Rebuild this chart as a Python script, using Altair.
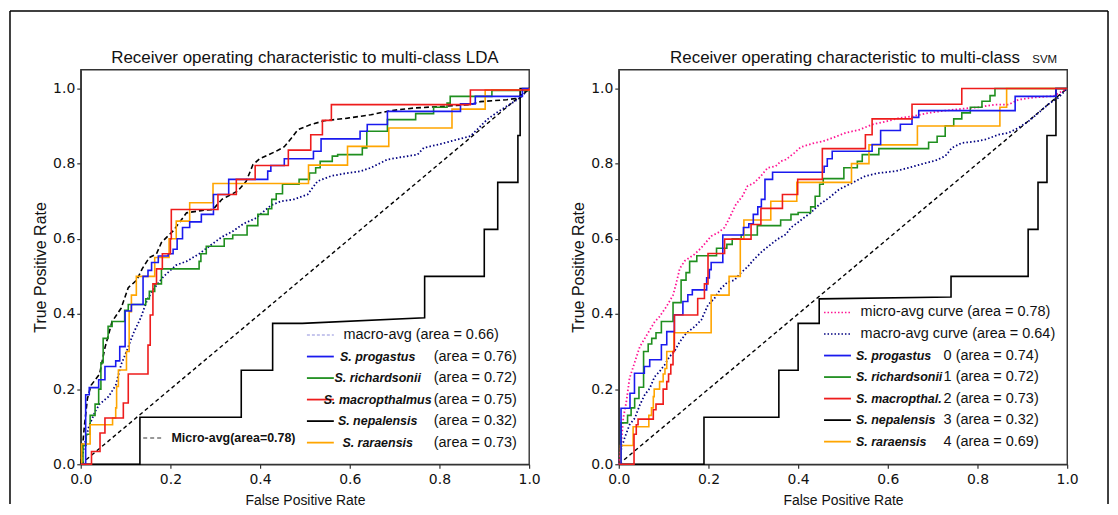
import altair as alt
import pandas as pd

# ---------------- data ----------------
diag_fpr = [0.0, 1.0]
diag_tpr = [0.0, 1.0]

# LDA panel
lda_prog_fpr = [0, 0.011, 0.019, 0.04, 0.054, 0.078, 0.087, 0.099, 0.113, 0.139, 0.15, 0.158, 0.173, 0.195, 0.206, 0.215, 0.227, 0.243, 0.269, 0.296, 0.33, 0.417, 0.424, 0.454, 0.519, 0.536, 0.623, 0.639, 0.684, 0.847, 0.88, 0.985, 1.0]
lda_prog_tpr = [0, 0.185, 0.204, 0.225, 0.26, 0.275, 0.313, 0.408, 0.425, 0.5, 0.516, 0.537, 0.554, 0.56, 0.572, 0.6, 0.63, 0.645, 0.665, 0.718, 0.758, 0.78, 0.795, 0.813, 0.833, 0.866, 0.886, 0.904, 0.939, 0.959, 0.979, 1.0, 1.0]

lda_rich_fpr = [0, 0.005, 0.012, 0.021, 0.032, 0.04, 0.045, 0.05, 0.061, 0.07, 0.098, 0.106, 0.145, 0.153, 0.165, 0.18, 0.264, 0.268, 0.28, 0.32, 0.339, 0.371, 0.395, 0.418, 0.426, 0.436, 0.45, 0.487, 0.51, 0.524, 0.534, 0.561, 0.573, 0.628, 0.638, 0.684, 0.747, 0.787, 0.817, 0.824, 0.917, 1.0]
lda_rich_tpr = [0, 0.05, 0.08, 0.13, 0.16, 0.2, 0.27, 0.335, 0.367, 0.38, 0.41, 0.425, 0.44, 0.46, 0.48, 0.52, 0.54, 0.56, 0.58, 0.6, 0.61, 0.635, 0.665, 0.68, 0.705, 0.72, 0.745, 0.758, 0.775, 0.789, 0.806, 0.82, 0.824, 0.842, 0.886, 0.917, 0.933, 0.95, 0.961, 0.979, 0.995, 1.0]

lda_macr_fpr = [0, 0.024, 0.043, 0.054, 0.095, 0.106, 0.15, 0.155, 0.161, 0.169, 0.182, 0.2, 0.202, 0.306, 0.347, 0.389, 0.463, 0.513, 0.539, 0.559, 0.869, 1.0]
lda_macr_tpr = [0, 0.034, 0.083, 0.123, 0.163, 0.24, 0.317, 0.397, 0.48, 0.52, 0.56, 0.6, 0.678, 0.718, 0.758, 0.795, 0.836, 0.877, 0.915, 0.957, 0.996, 1.0]

lda_nepa_fpr = [0, 0.132, 0.132, 0.358, 0.358, 0.428, 0.428, 0.494, 0.767, 0.767, 0.9, 0.9, 0.93, 0.93, 0.975, 0.975, 0.98, 0.98, 1.0]
lda_nepa_tpr = [0, 0, 0.125, 0.125, 0.25, 0.25, 0.375, 0.375, 0.39, 0.5, 0.5, 0.625, 0.625, 0.75, 0.75, 0.875, 0.875, 1.0, 1.0]

lda_rara_fpr = [0, 0.002, 0.021, 0.071, 0.078, 0.08, 0.084, 0.102, 0.108, 0.113, 0.124, 0.165, 0.197, 0.213, 0.243, 0.295, 0.508, 0.595, 0.687, 0.828, 0.902, 1.0]
lda_rara_tpr = [0, 0.054, 0.105, 0.123, 0.15, 0.207, 0.251, 0.3, 0.406, 0.45, 0.5, 0.55, 0.6, 0.647, 0.696, 0.747, 0.796, 0.846, 0.895, 0.945, 0.996, 1.0]

lda_micro_fpr = [0, 0.005, 0.008, 0.015, 0.023, 0.042, 0.054, 0.07, 0.09, 0.106, 0.125, 0.137, 0.153, 0.169, 0.18, 0.206, 0.236, 0.268, 0.295, 0.315, 0.35, 0.369, 0.384, 0.399, 0.436, 0.454, 0.47, 0.484, 0.513, 0.543, 0.595, 0.647, 0.691, 0.743, 0.802, 0.869, 0.891, 0.95, 0.98, 1.0]
lda_micro_tpr = [0, 0.06, 0.1, 0.175, 0.21, 0.24, 0.31, 0.38, 0.415, 0.47, 0.49, 0.52, 0.55, 0.56, 0.59, 0.621, 0.669, 0.675, 0.678, 0.705, 0.727, 0.753, 0.797, 0.813, 0.833, 0.845, 0.868, 0.89, 0.904, 0.914, 0.921, 0.93, 0.941, 0.948, 0.952, 0.957, 0.965, 0.97, 0.975, 1.0]

lda_macro_fpr = [0, 0.008, 0.018, 0.032, 0.042, 0.062, 0.078, 0.09, 0.102, 0.118, 0.134, 0.149, 0.165, 0.185, 0.213, 0.236, 0.264, 0.292, 0.315, 0.339, 0.363, 0.391, 0.41, 0.426, 0.447, 0.476, 0.506, 0.528, 0.558, 0.595, 0.625, 0.647, 0.684, 0.713, 0.751, 0.765, 0.802, 0.839, 0.869, 0.891, 0.906, 0.927, 0.96, 0.98, 1.0]
lda_macro_tpr = [0, 0.05, 0.1, 0.14, 0.16, 0.18, 0.21, 0.265, 0.3, 0.35, 0.39, 0.44, 0.47, 0.5, 0.53, 0.54, 0.56, 0.585, 0.605, 0.62, 0.64, 0.655, 0.675, 0.69, 0.7, 0.705, 0.718, 0.753, 0.767, 0.775, 0.78, 0.789, 0.811, 0.817, 0.824, 0.842, 0.852, 0.864, 0.873, 0.899, 0.917, 0.935, 0.96, 0.975, 1.0]

# SVM panel
svm_prog_fpr = [0, 0.005, 0.025, 0.035, 0.057, 0.069, 0.095, 0.107, 0.124, 0.143, 0.154, 0.164, 0.196, 0.202, 0.206, 0.232, 0.278, 0.29, 0.3, 0.31, 0.318, 0.326, 0.343, 0.458, 0.465, 0.476, 0.565, 0.584, 0.628, 0.654, 0.669, 0.884, 0.975, 1.0]
svm_prog_tpr = [0, 0.149, 0.189, 0.242, 0.26, 0.278, 0.318, 0.353, 0.398, 0.433, 0.451, 0.464, 0.496, 0.518, 0.537, 0.61, 0.63, 0.64, 0.665, 0.685, 0.705, 0.758, 0.777, 0.793, 0.813, 0.833, 0.851, 0.888, 0.905, 0.923, 0.941, 0.979, 1.0, 1.0]

svm_rich_fpr = [0, 0.005, 0.0196, 0.0275, 0.0354, 0.045, 0.0553, 0.0656, 0.0735, 0.083, 0.095, 0.121, 0.139, 0.15, 0.158, 0.174, 0.218, 0.241, 0.253, 0.273, 0.309, 0.361, 0.384, 0.4, 0.428, 0.438, 0.448, 0.456, 0.502, 0.532, 0.543, 0.58, 0.691, 0.71, 0.728, 0.747, 0.765, 0.784, 0.81, 0.828, 0.839, 1.0]
svm_rich_tpr = [0, 0.11, 0.13, 0.15, 0.175, 0.205, 0.3, 0.32, 0.335, 0.35, 0.38, 0.43, 0.49, 0.51, 0.54, 0.555, 0.575, 0.585, 0.6, 0.61, 0.635, 0.65, 0.665, 0.67, 0.685, 0.713, 0.745, 0.76, 0.789, 0.806, 0.824, 0.84, 0.857, 0.873, 0.901, 0.919, 0.935, 0.95, 0.966, 0.981, 1.0, 1.0]

svm_macr_fpr = [0, 0.034, 0.039, 0.043, 0.077, 0.083, 0.099, 0.107, 0.111, 0.116, 0.121, 0.124, 0.176, 0.191, 0.199, 0.236, 0.295, 0.317, 0.365, 0.399, 0.454, 0.55, 0.565, 0.654, 0.765, 1.0]
svm_macr_tpr = [0, 0.08, 0.105, 0.12, 0.145, 0.16, 0.2, 0.22, 0.24, 0.265, 0.3, 0.397, 0.441, 0.48, 0.561, 0.599, 0.638, 0.681, 0.718, 0.758, 0.84, 0.877, 0.919, 0.958, 1.0, 1.0]

svm_nepa_fpr = [0, 0.19, 0.19, 0.357, 0.357, 0.4, 0.4, 0.447, 0.447, 0.741, 0.741, 0.913, 0.913, 0.935, 0.935, 0.955, 0.955, 0.975, 0.975, 1.0]
svm_nepa_tpr = [0, 0, 0.125, 0.125, 0.25, 0.25, 0.375, 0.375, 0.44, 0.445, 0.5, 0.5, 0.625, 0.625, 0.75, 0.75, 0.875, 0.875, 1.0, 1.0]

svm_rara_fpr = [0, 0.004, 0.032, 0.067, 0.073, 0.077, 0.079, 0.091, 0.099, 0.103, 0.107, 0.123, 0.206, 0.246, 0.271, 0.279, 0.339, 0.397, 0.519, 0.558, 0.666, 0.85, 0.865, 1.0]
svm_rara_tpr = [0, 0.05, 0.1, 0.13, 0.15, 0.18, 0.2, 0.22, 0.24, 0.255, 0.3, 0.35, 0.45, 0.5, 0.6, 0.65, 0.7, 0.75, 0.8, 0.85, 0.9, 0.95, 1.0, 1.0]

svm_micro_fpr = [0, 0.002, 0.006, 0.01, 0.017, 0.024, 0.036, 0.047, 0.058, 0.069, 0.08, 0.091, 0.106, 0.121, 0.128, 0.136, 0.147, 0.169, 0.184, 0.206, 0.221, 0.236, 0.247, 0.261, 0.276, 0.287, 0.302, 0.317, 0.332, 0.35, 0.361, 0.373, 0.391, 0.406, 0.436, 0.454, 0.476, 0.506, 0.536, 0.565, 0.595, 0.625, 0.654, 0.691, 0.728, 0.765, 0.802, 0.839, 0.869, 0.891, 0.927, 0.97, 1.0]
svm_micro_tpr = [0, 0.017, 0.061, 0.123, 0.167, 0.229, 0.273, 0.313, 0.335, 0.357, 0.379, 0.393, 0.419, 0.45, 0.481, 0.521, 0.541, 0.559, 0.576, 0.607, 0.616, 0.63, 0.656, 0.691, 0.714, 0.74, 0.749, 0.767, 0.789, 0.793, 0.806, 0.811, 0.828, 0.844, 0.855, 0.859, 0.868, 0.882, 0.89, 0.904, 0.912, 0.921, 0.926, 0.935, 0.941, 0.946, 0.95, 0.957, 0.957, 0.97, 0.976, 0.98, 1.0]

svm_macro_fpr = [0, 0.006, 0.013, 0.024, 0.036, 0.047, 0.058, 0.069, 0.08, 0.091, 0.102, 0.113, 0.124, 0.136, 0.15, 0.169, 0.184, 0.199, 0.213, 0.228, 0.243, 0.258, 0.271, 0.287, 0.302, 0.321, 0.339, 0.354, 0.373, 0.384, 0.399, 0.413, 0.428, 0.447, 0.469, 0.491, 0.521, 0.55, 0.58, 0.617, 0.647, 0.676, 0.706, 0.728, 0.743, 0.765, 0.795, 0.817, 0.847, 0.869, 0.891, 0.913, 0.927, 0.96, 0.98, 1.0]
svm_macro_tpr = [0, 0.043, 0.07, 0.105, 0.123, 0.158, 0.185, 0.202, 0.233, 0.247, 0.264, 0.286, 0.3, 0.326, 0.348, 0.366, 0.384, 0.424, 0.441, 0.468, 0.485, 0.49, 0.508, 0.525, 0.546, 0.568, 0.585, 0.599, 0.612, 0.63, 0.643, 0.656, 0.669, 0.691, 0.709, 0.731, 0.749, 0.767, 0.775, 0.78, 0.789, 0.799, 0.808, 0.82, 0.842, 0.855, 0.859, 0.864, 0.877, 0.882, 0.895, 0.912, 0.926, 0.96, 0.975, 1.0]

# legend texts
species_lda = ["S. progastus", "S. richardsonii", "S. macropthalmus", "S. nepalensis", "S. raraensis"]
areas_lda = ["(area = 0.76)", "(area = 0.72)", "(area = 0.75)", "(area = 0.32)", "(area = 0.73)"]
macro_lda_label = "macro-avg (area = 0.66)"
micro_lda_label = "Micro-avg(area=0.78)"
species_svm = ["S. progastus", "S. richardsonii", "S. macropthal.", "S. nepalensis", "S. raraensis"]
areas_svm = ["0 (area = 0.74)", "1 (area = 0.72)", "2 (area = 0.73)", "3 (area = 0.32)", "4 (area = 0.69)"]
avg_svm_labels = ["micro-avg curve (area = 0.78)", "macro-avg curve (area = 0.64)"]
species_colors = ["#1a1aee", "#1f8f1f", "#ee1c1c", "#000000", "#ffa500"]

title_lda = "Receiver operating characteristic to multi-class LDA"
title_svm = "Receiver operating characteristic to multi-class"
title_svm_tag = "SVM"

# ---------------- layout helpers ----------------
W, H = 450, 396
YMAX = 1.05
SANS = "'Liberation Sans', Arial, sans-serif"


def px2x(p):
    return p / W


def px2y(p):
    return YMAX * (1 - p / H)


xs = alt.Scale(domain=[0, 1], nice=False, zero=False)
ys = alt.Scale(domain=[0, YMAX], nice=False, zero=False)
ticks = [0, 0.2, 0.4, 0.6, 0.8, 1.0]
x_axis = alt.Axis(values=ticks, format=".1f", title="False Positive Rate", grid=False,
                  titleFont=SANS, titleFontSize=14, titleFontWeight="normal",
                  titleX=W / 2, titleY=36, titleBaseline="middle", titleColor="#111",
                  labelPadding=4, labelFlush=False)
y_axis = alt.Axis(values=ticks, format=".1f", title="True Positive Rate", grid=False,
                  titleFont=SANS, titleFontSize=16, titleFontWeight="normal",
                  titleX=-40, titleY=H / 2, titleBaseline="middle", titleColor="#111",
                  labelPadding=2, labelFlush=False)


def X(f="x"):
    return alt.X(f + ":Q", scale=xs, axis=x_axis)


def Y(f="y"):
    return alt.Y(f + ":Q", scale=ys, axis=y_axis)


def curve(fpr, tpr, color, interp="step-after", dash=None, width=1.6):
    df = pd.DataFrame({"x": fpr, "y": tpr, "i": list(range(len(fpr)))})
    kw = dict(color=color, strokeWidth=width, interpolate=interp, clip=False)
    if dash:
        kw["strokeDash"] = dash
    return alt.Chart(df).mark_line(**kw).encode(x=X(), y=Y(), order="i:Q")


def sample(x0, x1, yrow, color, dash=None, width=1.6):
    df = pd.DataFrame({"x": [px2x(x0)], "x2": [px2x(x1)], "y": [px2y(yrow)]})
    kw = dict(color=color, strokeWidth=width)
    if dash:
        kw["strokeDash"] = dash
    return alt.Chart(df).mark_rule(**kw).encode(x=X(), x2="x2:Q", y=Y())


def texts(labels, xpix, ypix, align="left", size=14.5, weight="normal", style="normal"):
    df = pd.DataFrame({"x": [px2x(xpix)] * len(labels), "y": [px2y(p) for p in ypix], "t": labels})
    return alt.Chart(df).mark_text(align=align, baseline="middle", font=SANS, fontSize=size,
                                   fontWeight=weight, fontStyle=style, color="#111").encode(
        x=X(), y=Y(), text="t:N")


def label(txt, xpix, ypix, size, align="center"):
    return alt.Chart(one).mark_text(text=txt, align=align, baseline="alphabetic", font=SANS,
                                    fontSize=size, color="#111").encode(
        x=alt.value(xpix), y=alt.value(ypix))


one = pd.DataFrame({"k": [0]})

# ---------------- LDA panel ----------------
lda_rows = [266.3 + 21.6 * i for i in range(6)]
lda_layers = [
    curve(diag_fpr, diag_tpr, "black", interp="linear", dash=[4, 3], width=1.4),
    curve(lda_macro_fpr, lda_macro_tpr, "navy", interp="linear", dash=[1.5, 2.2], width=1.8),
    curve(lda_micro_fpr, lda_micro_tpr, "black", interp="linear", dash=[5, 3], width=1.6),
    curve(lda_nepa_fpr, lda_nepa_tpr, species_colors[3], interp="linear"),
    curve(lda_rich_fpr, lda_rich_tpr, species_colors[1]),
    curve(lda_rara_fpr, lda_rara_tpr, species_colors[4]),
    curve(lda_prog_fpr, lda_prog_tpr, species_colors[0]),
    curve(lda_macr_fpr, lda_macr_tpr, species_colors[2]),
    sample(227, 254, lda_rows[0], "#8f8fdc", dash=[3, 2], width=1.2),
]
for k in range(5):
    lda_layers.append(sample(227, 254, lda_rows[k + 1], species_colors[k], width=1.8))
lda_layers += [
    texts([macro_lda_label], 263.7, [lda_rows[0]]),
    texts(species_lda, 298, lda_rows[1:], align="center", size=12.5, weight="bold", style="italic"),
    texts(areas_lda, 354.3, lda_rows[1:]),
    sample(62.7, 82.7, 369.7, "#333", dash=[4, 3], width=1.1),
    texts([micro_lda_label], 91, [369.7], size=12.5, weight="bold"),
    label(title_lda, W / 2, -7, 17),
    # outer frame
    alt.Chart(one).mark_rule(color="black", strokeWidth=1.5).encode(
        x=alt.value(-71), y=alt.value(-59), y2=alt.value(436)),
    alt.Chart(one).mark_rule(color="black", strokeWidth=1.5).encode(
        x=alt.value(-71), x2=alt.value(1031), y=alt.value(-59)),
    alt.Chart(one).mark_rule(color="black", strokeWidth=1.5).encode(
        x=alt.value(1031), y=alt.value(-59), y2=alt.value(436)),
]
lda = alt.layer(*lda_layers).properties(width=W, height=H)

# ---------------- SVM panel ----------------
svm_rows = [243.7 + 21.6 * i for i in range(7)]
svm_layers = [
    curve(diag_fpr, diag_tpr, "black", interp="linear", dash=[4, 3], width=1.4),
    curve(svm_macro_fpr, svm_macro_tpr, "navy", interp="linear", dash=[1.5, 2.2], width=1.8),
    curve(svm_micro_fpr, svm_micro_tpr, "deeppink", interp="linear", dash=[1.5, 2.2], width=1.8),
    curve(svm_nepa_fpr, svm_nepa_tpr, species_colors[3], interp="linear"),
    curve(svm_rich_fpr, svm_rich_tpr, species_colors[1]),
    curve(svm_rara_fpr, svm_rara_tpr, species_colors[4]),
    curve(svm_prog_fpr, svm_prog_tpr, species_colors[0]),
    curve(svm_macr_fpr, svm_macr_tpr, species_colors[2]),
    sample(206, 233, svm_rows[0], "deeppink", dash=[1.5, 2], width=1.5),
    sample(206, 233, svm_rows[1], "navy", dash=[1.5, 2], width=1.5),
]
for k in range(5):
    svm_layers.append(sample(206, 233, svm_rows[k + 2], species_colors[k], width=1.8))
svm_layers += [
    texts(avg_svm_labels, 242.7, svm_rows[:2]),
    texts(species_svm, 238, svm_rows[2:], size=12.5, weight="bold", style="italic"),
    texts(areas_svm, 326, svm_rows[2:]),
    label(title_svm, W / 2 + 2, -7, 17),
    label(title_svm_tag, 415, -7, 11.5, align="left"),
]
svm = alt.layer(*svm_layers).properties(width=W, height=H)

chart = alt.hconcat(lda, svm, spacing=90, bounds="flush").properties(padding=0).configure_view(
    stroke="#333", strokeWidth=1.4
).configure_axis(
    labelFont="DejaVu Sans", labelFontSize=14, labelColor="#111",
    tickColor="#333", tickSize=4, tickWidth=1.2, domainColor="#333", domainWidth=1.4
)

chart.save("out.html", embed_options={"renderer": "svg", "actions": False})
